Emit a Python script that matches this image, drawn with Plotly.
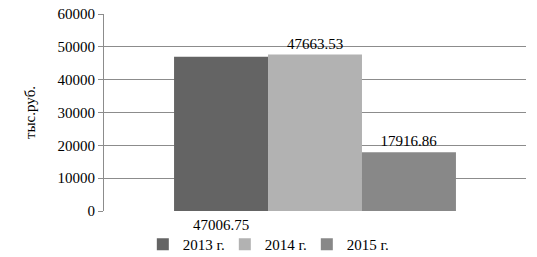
import plotly.graph_objects as go

categories = ["тыс.руб."]
series_names = ["2013 г.", "2014 г.", "2015 г."]
values = [47006.75, 47663.53, 17916.86]
colors = ["#646464", "#b2b2b2", "#888888"]
y_ticks = [0, 10000, 20000, 30000, 40000, 50000, 60000]

FONT = "Liberation Serif"
TXT = dict(family=FONT, size=15, color="#000000")

fig = go.Figure()
for i, (name, v, c) in enumerate(zip(series_names, values, colors)):
    fig.add_trace(go.Bar(
        x=[0], y=[v], name=name, marker=dict(color=c, line=dict(width=0)),
        text=[f"{v:.2f}"] if i > 0 else None,
        textposition="outside", cliponaxis=False,
        textfont=TXT,
    ))

# label for first series placed below the bar
fig.add_annotation(x=0, y=0, xref="x", yref="y", text=f"{values[0]:.2f}",
                   showarrow=False, yanchor="top", xshift=-94, yshift=-4,
                   font=TXT)

fig.update_layout(
    width=537, height=257,
    margin=dict(l=104, r=11, t=14, b=46, autoexpand=False),
    paper_bgcolor="white", plot_bgcolor="white",
    barmode="group", bargap=0.332, bargroupgap=0,
    font=TXT,
    showlegend=True,
    legend=dict(orientation="h", xref="paper", yref="paper",
                x=0.092, xanchor="left", y=-0.086, yanchor="top",
                font=TXT, itemwidth=30, entrywidth=37, entrywidthmode="pixels",
                tracegroupgap=0, bgcolor="rgba(0,0,0,0)"),
)
fig.update_xaxes(range=[-0.5, 0.5], showticklabels=False, showgrid=False,
                 zeroline=False, showline=False, ticks="")
fig.update_yaxes(range=[0, 60000], tickvals=y_ticks, tickformat="d",
                 tickfont=TXT,
                 showgrid=True, gridcolor="#8c8c8c", gridwidth=1,
                 zeroline=False, showline=True, linecolor="#8c8c8c", linewidth=1,
                 ticks="outside", ticklen=5, tickcolor="#8c8c8c",
                 title=dict(text=categories[0], font=TXT, standoff=18))

fig.write_html("out.html")
